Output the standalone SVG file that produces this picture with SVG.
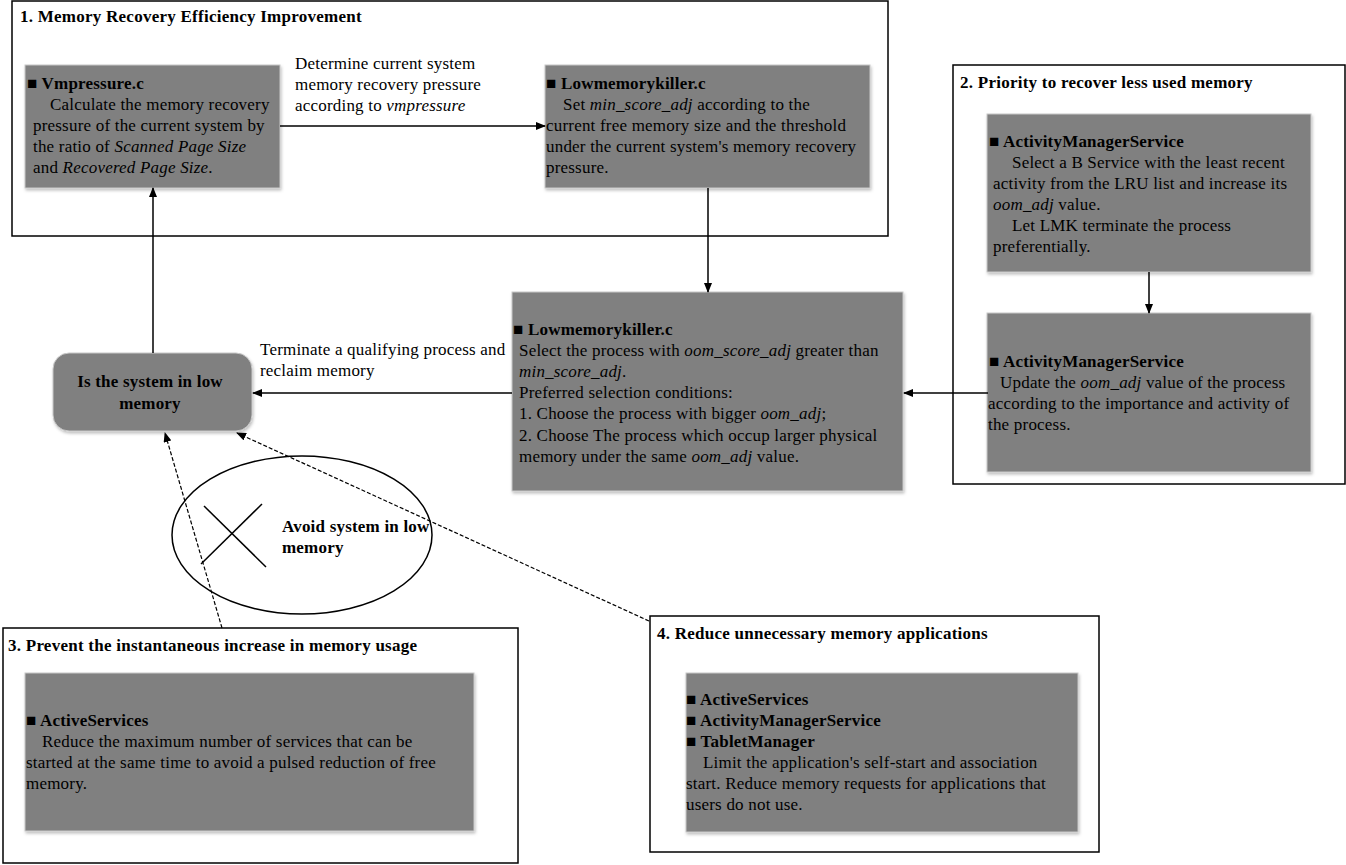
<svg xmlns="http://www.w3.org/2000/svg" width="1346" height="865" viewBox="0 0 1346 865">
<defs>
<style>
.frame{fill:#fff;stroke:#000;stroke-width:1.5}
.box{fill:#808080;stroke:#c8c8c8;stroke-width:1;filter:url(#sh)}
.t{font-family:"Liberation Serif","Times New Roman",serif;font-size:17px;letter-spacing:0.2px;fill:#000}
.b{font-weight:bold}
.i{font-style:italic}
.title{font-family:"Liberation Serif","Times New Roman",serif;font-size:17px;letter-spacing:0.25px;font-weight:bold;fill:#000}
.conn{stroke:#000;stroke-width:1.5;fill:none}
.dash{stroke:#000;stroke-width:1.2;fill:none;stroke-dasharray:4 2}
</style>
<filter id="sh" x="-5%" y="-5%" width="110%" height="115%">
<feDropShadow dx="1" dy="2" stdDeviation="1.5" flood-color="#000" flood-opacity="0.25"/>
</filter>
<marker id="ah" markerWidth="10" markerHeight="8" refX="9" refY="4" orient="auto" markerUnits="userSpaceOnUse">
<path d="M0,0 L10,4 L0,8 Z" fill="#000"/>
</marker>
</defs>

<g id="container1">
<rect class="frame" x="12" y="1" width="876" height="235"/>
<text class="title" x="20" y="22">1. Memory Recovery Efficiency Improvement</text>
</g>
<g id="container2">
<rect class="frame" x="953" y="65" width="392" height="419"/>
<text class="title" x="960" y="88">2. Priority to recover less used memory</text>
</g>
<g id="container3">
<rect class="frame" x="3" y="628" width="515" height="235"/>
<text class="title" x="8" y="651">3. Prevent the instantaneous increase in memory usage</text>
</g>
<g id="container4">
<rect class="frame" x="650" y="616" width="449" height="236"/>
<text class="title" x="657" y="639">4. Reduce unnecessary memory applications</text>
</g>

<g id="vmpressure">
<rect class="box" x="25" y="65" width="255" height="123"/>
<text class="t b" x="27" y="89">■ Vmpressure.c</text>
<text class="t" x="50" y="110">Calculate the memory recovery</text>
<text class="t" x="33" y="131">pressure of the current system by</text>
<text class="t" x="33" y="152">the ratio of <tspan class="i">Scanned Page Size</tspan></text>
<text class="t" x="33" y="173">and <tspan class="i">Recovered Page Size</tspan>.</text>
</g>

<g id="lmk1">
<rect class="box" x="545" y="65" width="325" height="123"/>
<text class="t b" x="546" y="89">■ Lowmemorykiller.c</text>
<text class="t" x="563" y="110">Set <tspan class="i">min_score_adj</tspan> according to the</text>
<text class="t" x="546" y="131">current free memory size and the threshold</text>
<text class="t" x="546" y="152">under the current system's memory recovery</text>
<text class="t" x="546" y="173">pressure.</text>
</g>

<g id="lmk2">
<rect class="box" x="512" y="292" width="391" height="199"/>
<text class="t b" x="513" y="335">■ Lowmemorykiller.c</text>
<text class="t" x="519" y="356">Select the process with <tspan class="i">oom_score_adj</tspan> greater than</text>
<text class="t" x="519" y="377"><tspan class="i">min_score_adj</tspan>.</text>
<text class="t" x="519" y="398">Preferred selection conditions:</text>
<text class="t" x="519" y="419">1. Choose the process with bigger <tspan class="i">oom_adj</tspan>;</text>
<text class="t" x="519" y="441">2. Choose The process which occup larger physical</text>
<text class="t" x="519" y="462">memory under the same <tspan class="i">oom_adj</tspan> value.</text>
</g>

<g id="ams1">
<rect class="box" x="987" y="114" width="324" height="158"/>
<text class="t b" x="989" y="147">■ ActivityManagerService</text>
<text class="t" x="1012" y="168">Select a B Service with the least recent</text>
<text class="t" x="993" y="189">activity from the LRU list and increase its</text>
<text class="t" x="993" y="210"><tspan class="i">oom_adj</tspan> value.</text>
<text class="t" x="1012" y="231">Let LMK terminate the process</text>
<text class="t" x="993" y="252">preferentially.</text>
</g>

<g id="ams2">
<rect class="box" x="987" y="313" width="324" height="159"/>
<text class="t b" x="989" y="367">■ ActivityManagerService</text>
<text class="t" x="1000" y="388">Update the <tspan class="i">oom_adj</tspan> value of the process</text>
<text class="t" x="988" y="409">according to the importance and activity of</text>
<text class="t" x="988" y="430">the process.</text>
</g>

<g id="lowmem">
<rect class="box" x="53" y="353" width="199" height="78" rx="16" ry="16"/>
<text class="t b" x="150" y="387" text-anchor="middle">Is the system in low</text>
<text class="t b" x="150" y="409" text-anchor="middle">memory</text>
</g>

<g id="avoid">
<ellipse cx="302" cy="535" rx="130" ry="79" fill="none" stroke="#000" stroke-width="1.5"/>
<line x1="204" y1="506" x2="266" y2="567" stroke="#000" stroke-width="1.5"/>
<line x1="262" y1="504" x2="201" y2="564" stroke="#000" stroke-width="1.5"/>
<text class="t b" x="282" y="532">Avoid system in low</text>
<text class="t b" x="282" y="553">memory</text>
</g>

<g id="ams3">
<rect class="box" x="25" y="673" width="449" height="158"/>
<text class="t b" x="26" y="726">■ ActiveServices</text>
<text class="t" x="42" y="747">Reduce the maximum number of services that can be</text>
<text class="t" x="26" y="768">started at the same time to avoid a pulsed reduction of free</text>
<text class="t" x="26" y="789">memory.</text>
</g>

<g id="ams4">
<rect class="box" x="686" y="673" width="392" height="159"/>
<text class="t b" x="686" y="705">■ ActiveServices</text>
<text class="t b" x="686" y="726">■ ActivityManagerService</text>
<text class="t b" x="686" y="747">■ TabletManager</text>
<text class="t" x="703" y="768">Limit the application's self-start and association</text>
<text class="t" x="686" y="789">start. Reduce memory requests for applications that</text>
<text class="t" x="686" y="810">users do not use.</text>
</g>

<g id="connectors">
<line class="conn" x1="280" y1="126" x2="545" y2="126" marker-end="url(#ah)"/>
<text class="t" x="295" y="69">Determine current system</text>
<text class="t" x="295" y="90">memory recovery pressure</text>
<text class="t" x="295" y="111">according to <tspan class="i">vmpressure</tspan></text>
<line class="conn" x1="708" y1="188" x2="708" y2="292" marker-end="url(#ah)"/>
<line class="conn" x1="512" y1="393" x2="253" y2="393" marker-end="url(#ah)"/>
<text class="t" x="260" y="355">Terminate a qualifying process and</text>
<text class="t" x="260" y="376">reclaim memory</text>
<line class="conn" x1="988" y1="393" x2="904" y2="393" marker-end="url(#ah)"/>
<line class="conn" x1="1149" y1="272" x2="1149" y2="313" marker-end="url(#ah)"/>
<line class="conn" x1="153" y1="353" x2="153" y2="188" marker-end="url(#ah)"/>
<line class="dash" x1="222" y1="628" x2="165" y2="433" marker-end="url(#ah)"/>
<line class="dash" x1="649" y1="621" x2="237" y2="433" marker-end="url(#ah)"/>
</g>
</svg>
